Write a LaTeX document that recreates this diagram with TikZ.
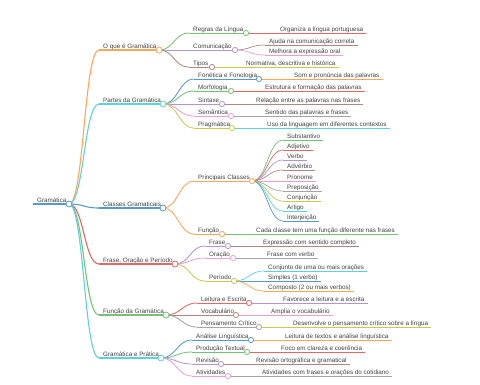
\documentclass[tikz,border=0pt]{standalone}
\usepackage{fontspec}
\setmainfont{Liberation Sans}
\usetikzlibrary{calc}
\definecolor{bBlue}{HTML}{1F77B4}
\definecolor{bOrange}{HTML}{FF7F0E}
\definecolor{bGreen}{HTML}{2CA02C}
\definecolor{bRed}{HTML}{D62728}
\definecolor{bPurple}{HTML}{9467BD}
\definecolor{bBrown}{HTML}{8C564B}
\definecolor{bPink}{HTML}{E377C2}
\definecolor{bGrey}{HTML}{7F7F7F}
\definecolor{bOlive}{HTML}{BCBD22}
\definecolor{bCyan}{HTML}{17BECF}
\colorlet{cBlue}{bBlue!75!white}
\colorlet{cOrange}{bOrange!70!white}
\colorlet{cGreen}{bGreen!65!white}
\colorlet{cRed}{bRed!70!white}
\colorlet{cPurple}{bPurple!70!white}
\colorlet{cBrown}{bBrown!70!white}
\colorlet{cPink}{bPink!70!white}
\colorlet{cGrey}{bGrey!70!white}
\colorlet{cOlive}{bOlive!80!white}
\colorlet{cCyan}{bCyan!70!white}
\definecolor{txt}{HTML}{404040}
\tikzset{
  lbl/.style={font=\fontsize{6.3}{7}\selectfont, text=txt, inner sep=0pt, anchor=base west},
  lwA/.style={line width=1.5pt},
  lwB/.style={line width=1.1pt},
  lwC/.style={line width=0.85pt},
  lwD/.style={line width=0.7pt},
  dot/.style={fill=white, line width=0.8pt}
}
% parent node: name, colour, width style, text x, line y, circle x, text
\newcommand\mmpar[7]{%
  \node[lbl] (#1) at (#4,#5-2) {#7};
  \coordinate (#1-s) at (#4-4,#5);
  \coordinate (#1-e) at (#6,#5);
  \draw[#2,#3] (#1-s) -- (#1-e);}
% leaf node: name, colour, width style, text x, line y, text
\newcommand\mmleaf[6]{%
  \node[lbl] (#1) at (#4,#5-2) {#6};
  \coordinate (#1-s) at (#4-4,#5);
  \draw[#2,#3] (#1-s) -- ($(#1.east |- #1-s)+(3,0)$);}
% link: parent, child, colour, width style
\newcommand\mmlink[4]{\draw[#3,#4] (#1-e) .. controls +(15,0) and +(-15,0) .. (#2-s);}
% circle: name, colour, radius
\newcommand\mmdot[3]{\draw[draw=#2,dot] (#1-e) circle (#3);}
\begin{document}
\begin{tikzpicture}[x=1pt,y=-1pt]
\useasboundingbox (0,0) rectangle (480,384);
% root
\mmpar{g}{cBlue}{lwA}{37}{204}{69}{Gramática}
% level 1
\mmpar{q1}{cOrange}{lwB}{103}{50}{159}{O que é Gramática}
\mmpar{q2}{cCyan}{lwB}{103}{104}{163}{Partes da Gramática}
\mmpar{q3}{cBlue}{lwB}{103}{208}{163}{Classes Gramaticais}
\mmpar{q4}{cRed}{lwB}{103}{264}{175}{Frase, Oração e Período}
\mmpar{q5}{cGreen}{lwB}{103}{315}{166}{Função da Gramática}
\mmpar{q6}{cCyan}{lwB}{103}{358}{161}{Gramática e Prática}
% level 2
\mmpar{r1}{cGreen}{lwC}{193}{33}{246}{Regras da Língua}
\mmpar{r2}{cPurple}{lwC}{193}{50}{235}{Comunicação}
\mmpar{r3}{cBrown}{lwC}{193}{67}{212}{Tipos}
\mmpar{r4}{cBlue}{lwC}{198}{79}{259}{Fonética e Fonologia}
\mmpar{r5}{cGreen}{lwC}{198}{91}{231}{Morfologia}
\mmpar{r6}{cPurple}{lwC}{198}{104}{222}{Sintaxe}
\mmpar{r7}{cPink}{lwC}{198}{116}{231}{Semântica}
\mmpar{r8}{cOlive}{lwC}{198}{128}{232}{Pragmática}
\mmpar{r9}{cOrange}{lwC}{198}{181}{252}{Principais Classes}
\mmpar{r10}{cOrange}{lwC}{198}{234}{222}{Função}
\mmpar{r11}{cPurple}{lwC}{209}{246}{228}{Frase}
\mmpar{r12}{cPink}{lwC}{209}{258}{233}{Oração}
\mmpar{r13}{cOlive}{lwC}{209}{281}{234}{Período}
\mmpar{r14}{cRed}{lwC}{201}{303}{249}{Leitura e Escrita}
\mmpar{r15}{cBrown}{lwC}{201}{315}{236}{Vocabulário}
\mmpar{r16}{cGrey}{lwC}{201}{327}{259}{Pensamento Crítico}
\mmpar{r17}{cBlue}{lwC}{196}{340}{251}{Análise Linguística}
\mmpar{r18}{cGreen}{lwC}{196}{352}{247}{Produção Textual}
\mmpar{r19}{cPurple}{lwC}{196}{364}{221}{Revisão}
\mmpar{r20}{cPink}{lwC}{196}{376}{228}{Atividades}
% level 3
\mmleaf{l1}{cRed}{lwD}{280}{33}{Organiza a língua portuguesa}
\mmleaf{l2}{cBrown}{lwD}{269}{45}{Ajuda na comunicação correta}
\mmleaf{l3}{cPink}{lwD}{269}{55}{Melhora a expressão oral}
\mmleaf{l4}{cOlive}{lwD}{246}{67}{Normativa, descritiva e histórica}
\mmleaf{l5}{cOrange}{lwD}{294}{79}{Som e pronúncia das palavras}
\mmleaf{l6}{cRed}{lwD}{265}{91}{Estrutura e formação das palavras}
\mmleaf{l7}{cBrown}{lwD}{256}{104}{Relação entre as palavras nas frases}
\mmleaf{l8}{cGrey}{lwD}{265}{116}{Sentido das palavras e frases}
\mmleaf{l9}{cCyan}{lwD}{267}{128}{Uso da linguagem em diferentes contextos}
\mmleaf{c1}{cGreen}{lwD}{287}{140}{Substantivo}
\mmleaf{c2}{cRed}{lwD}{287}{150}{Adjetivo}
\mmleaf{c3}{cPurple}{lwD}{287}{160}{Verbo}
\mmleaf{c4}{cBrown}{lwD}{287}{170}{Advérbio}
\mmleaf{c5}{cPink}{lwD}{287}{181}{Pronome}
\mmleaf{c6}{cGrey}{lwD}{287}{191}{Preposição}
\mmleaf{c7}{cOlive}{lwD}{287}{201}{Conjunção}
\mmleaf{c8}{cCyan}{lwD}{287}{211}{Artigo}
\mmleaf{c9}{cBlue}{lwD}{287}{221}{Interjeição}
\mmleaf{l10}{cGreen}{lwD}{256}{234}{Cada classe tem uma função diferente nas frases}
\mmleaf{l11}{cBrown}{lwD}{263}{246}{Expressão com sentido completo}
\mmleaf{l12}{cGrey}{lwD}{267}{258}{Frase com verbo}
\mmleaf{l13}{cCyan}{lwD}{268}{271}{Conjunto de uma ou mais orações}
\mmleaf{l14}{cBlue}{lwD}{268}{281}{Simples (1 verbo)}
\mmleaf{l15}{cOrange}{lwD}{268}{291}{Composto (2 ou mais verbos)}
\mmleaf{l16}{cPurple}{lwD}{283}{303}{Favorece a leitura e a escrita}
\mmleaf{l17}{cPink}{lwD}{271}{315}{Amplia o vocabulário}
\mmleaf{l18}{cOlive}{lwD}{293}{327}{Desenvolve o pensamento crítico sobre a língua}
\mmleaf{l19}{cOrange}{lwD}{285}{340}{Leitura de textos e análise linguística}
\mmleaf{l20}{cRed}{lwD}{281}{352}{Foco em clareza e coerência}
\mmleaf{l21}{cBrown}{lwD}{256}{364}{Revisão ortográfica e gramatical}
\mmleaf{l22}{cGrey}{lwD}{262}{376}{Atividades com frases e orações do cotidiano}
% links root -> level 1
\mmlink{g}{q1}{cOrange}{lwB}
\mmlink{g}{q2}{cCyan}{lwB}
\mmlink{g}{q3}{cBlue}{lwB}
\mmlink{g}{q4}{cRed}{lwB}
\mmlink{g}{q5}{cGreen}{lwB}
\mmlink{g}{q6}{cCyan}{lwB}
% links level 1 -> level 2
\mmlink{q1}{r1}{cGreen}{lwC}
\mmlink{q1}{r2}{cPurple}{lwC}
\mmlink{q1}{r3}{cBrown}{lwC}
\mmlink{q2}{r4}{cBlue}{lwC}
\mmlink{q2}{r5}{cGreen}{lwC}
\mmlink{q2}{r6}{cPurple}{lwC}
\mmlink{q2}{r7}{cPink}{lwC}
\mmlink{q2}{r8}{cOlive}{lwC}
\mmlink{q3}{r9}{cOrange}{lwC}
\mmlink{q3}{r10}{cOrange}{lwC}
\mmlink{q4}{r11}{cPurple}{lwC}
\mmlink{q4}{r12}{cPink}{lwC}
\mmlink{q4}{r13}{cOlive}{lwC}
\mmlink{q5}{r14}{cRed}{lwC}
\mmlink{q5}{r15}{cBrown}{lwC}
\mmlink{q5}{r16}{cGrey}{lwC}
\mmlink{q6}{r17}{cBlue}{lwC}
\mmlink{q6}{r18}{cGreen}{lwC}
\mmlink{q6}{r19}{cPurple}{lwC}
\mmlink{q6}{r20}{cPink}{lwC}
% links level 2 -> level 3
\mmlink{r1}{l1}{cRed}{lwD}
\mmlink{r2}{l2}{cBrown}{lwD}
\mmlink{r2}{l3}{cPink}{lwD}
\mmlink{r3}{l4}{cOlive}{lwD}
\mmlink{r4}{l5}{cOrange}{lwD}
\mmlink{r5}{l6}{cRed}{lwD}
\mmlink{r6}{l7}{cBrown}{lwD}
\mmlink{r7}{l8}{cGrey}{lwD}
\mmlink{r8}{l9}{cCyan}{lwD}
\mmlink{r9}{c1}{cGreen}{lwD}
\mmlink{r9}{c2}{cRed}{lwD}
\mmlink{r9}{c3}{cPurple}{lwD}
\mmlink{r9}{c4}{cBrown}{lwD}
\mmlink{r9}{c5}{cPink}{lwD}
\mmlink{r9}{c6}{cGrey}{lwD}
\mmlink{r9}{c7}{cOlive}{lwD}
\mmlink{r9}{c8}{cCyan}{lwD}
\mmlink{r9}{c9}{cBlue}{lwD}
\mmlink{r10}{l10}{cGreen}{lwD}
\mmlink{r11}{l11}{cBrown}{lwD}
\mmlink{r12}{l12}{cGrey}{lwD}
\mmlink{r13}{l13}{cCyan}{lwD}
\mmlink{r13}{l14}{cBlue}{lwD}
\mmlink{r13}{l15}{cOrange}{lwD}
\mmlink{r14}{l16}{cPurple}{lwD}
\mmlink{r15}{l17}{cPink}{lwD}
\mmlink{r16}{l18}{cOlive}{lwD}
\mmlink{r17}{l19}{cOrange}{lwD}
\mmlink{r18}{l20}{cRed}{lwD}
\mmlink{r19}{l21}{cBrown}{lwD}
\mmlink{r20}{l22}{cGrey}{lwD}
% circles
\mmdot{g}{cBlue}{3pt}
\mmdot{q1}{cOrange}{3pt}
\mmdot{q2}{cCyan}{3pt}
\mmdot{q3}{cBlue}{3pt}
\mmdot{q4}{cRed}{3pt}
\mmdot{q5}{cGreen}{3pt}
\mmdot{q6}{cCyan}{3pt}
\mmdot{r1}{cGreen}{2.6pt}
\mmdot{r2}{cPurple}{2.6pt}
\mmdot{r3}{cBrown}{2.6pt}
\mmdot{r4}{cBlue}{2.6pt}
\mmdot{r5}{cGreen}{2.6pt}
\mmdot{r6}{cPurple}{2.6pt}
\mmdot{r7}{cPink}{2.6pt}
\mmdot{r8}{cOlive}{2.6pt}
\mmdot{r9}{cOrange}{2.6pt}
\mmdot{r10}{cOrange}{2.6pt}
\mmdot{r11}{cPurple}{2.6pt}
\mmdot{r12}{cPink}{2.6pt}
\mmdot{r13}{cOlive}{2.6pt}
\mmdot{r14}{cRed}{2.6pt}
\mmdot{r15}{cBrown}{2.6pt}
\mmdot{r16}{cGrey}{2.6pt}
\mmdot{r17}{cBlue}{2.6pt}
\mmdot{r18}{cGreen}{2.6pt}
\mmdot{r19}{cPurple}{2.6pt}
\mmdot{r20}{cPink}{2.6pt}
\end{tikzpicture}
\end{document}
